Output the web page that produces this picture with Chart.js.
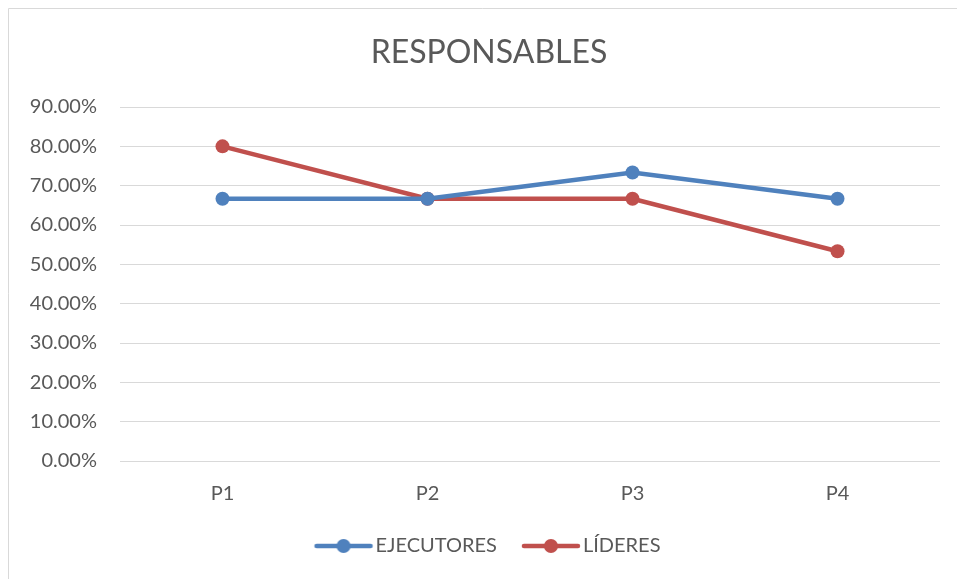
<!DOCTYPE html>
<html><head><meta charset="utf-8">
<script src="https://cdn.jsdelivr.net/npm/chart.js@4"></script>
<style>html,body{margin:0;padding:0;background:#fff}#wrap{width:957px;height:579px;position:relative}</style>
</head><body><div id="wrap"><canvas id="c"></canvas></div>
<script>
const categories = ['P1','P2','P3','P4'];
const ejecutores = [66.67, 66.67, 73.33, 66.67];
const lideres = [80.00, 66.67, 66.67, 53.33];
const yTicks = [0,10,20,30,40,50,60,70,80,90];
const seriesNames = ['EJECUTORES','LÍDERES'];
const colors = ['#4F81BD','#C0504D'];
const FONT = 'Lato';

function legendIcon(color){
  const c = document.createElement('canvas');
  c.width = 66; c.height = 16;
  const g = c.getContext('2d');
  g.strokeStyle = color; g.lineWidth = 4.5; g.lineCap = 'round';
  g.beginPath(); g.moveTo(8,8); g.lineTo(62,8); g.stroke();
  g.fillStyle = color; g.beginPath(); g.arc(35,8,7,0,Math.PI*2); g.fill();
  return c;
}

const frame = {
  id:'frame',
  afterDraw(chart){
    const ctx = chart.ctx;
    ctx.save(); ctx.strokeStyle='#D9D9D9'; ctx.lineWidth=1;
    ctx.beginPath(); ctx.moveTo(8.5,579); ctx.lineTo(8.5,8.5); ctx.lineTo(957,8.5); ctx.stroke();
    ctx.restore();
  }
};

new Chart(document.getElementById('c'), {
  type:'line',
  data:{
    labels:categories,
    datasets:[
      {label:seriesNames[0], data:ejecutores, borderColor:colors[0], backgroundColor:colors[0], borderWidth:4.5, pointRadius:7, pointHoverRadius:7, pointBackgroundColor:colors[0], pointBorderWidth:0, pointStyle:'circle', tension:0},
      {label:seriesNames[1], data:lideres, borderColor:colors[1], backgroundColor:colors[1], borderWidth:4.5, pointRadius:7, pointHoverRadius:7, pointBackgroundColor:colors[1], pointBorderWidth:0, pointStyle:'circle', tension:0}
    ]
  },
  options:{
    responsive:true, maintainAspectRatio:false, animation:false,
    layout:{padding:{left:21,right:0,top:0,bottom:13}},
    plugins:{
      title:{display:true, text:'RESPONSABLES', color:'#595959', font:{family:FONT,size:32,weight:'normal'}, padding:{top:33,bottom:35.6}},
      legend:{position:'bottom', labels:{
        font:{family:FONT,size:20}, color:'#595959', padding:28, usePointStyle:true, pointStyleWidth:48, boxHeight:16,
        generateLabels(chart){
          return chart.data.datasets.map((d,i)=>({text:d.label, pointStyle:legendIcon(colors[i]), fillStyle:colors[i], strokeStyle:colors[i], lineWidth:0, datasetIndex:i, fontColor:'#595959'}));
        }
      }},
      tooltip:{enabled:false}
    },
    scales:{
      x:{offset:true, grid:{display:false, drawTicks:false}, border:{display:false},
         ticks:{color:'#595959', font:{family:FONT,size:20}, padding:21},
         afterFit(s){ s.height = 47; }},
      y:{min:0, max:90, afterBuildTicks(s){ s.ticks = yTicks.map(v=>({value:v})); },
         grid:{color:'#D9D9D9', lineWidth:1, drawTicks:false}, border:{display:false},
         ticks:{color:'#595959', font:{family:FONT,size:20}, padding:23, callback:v=>v.toFixed(2)+'%'},
         afterFit(s){ s.width = 99; }},
      yr:{position:'right', min:0, max:90, grid:{display:false, drawTicks:false}, border:{display:false},
         ticks:{display:false}, afterFit(s){ s.width = 17; }}
    }
  },
  plugins:[frame]
});
</script></body></html>
